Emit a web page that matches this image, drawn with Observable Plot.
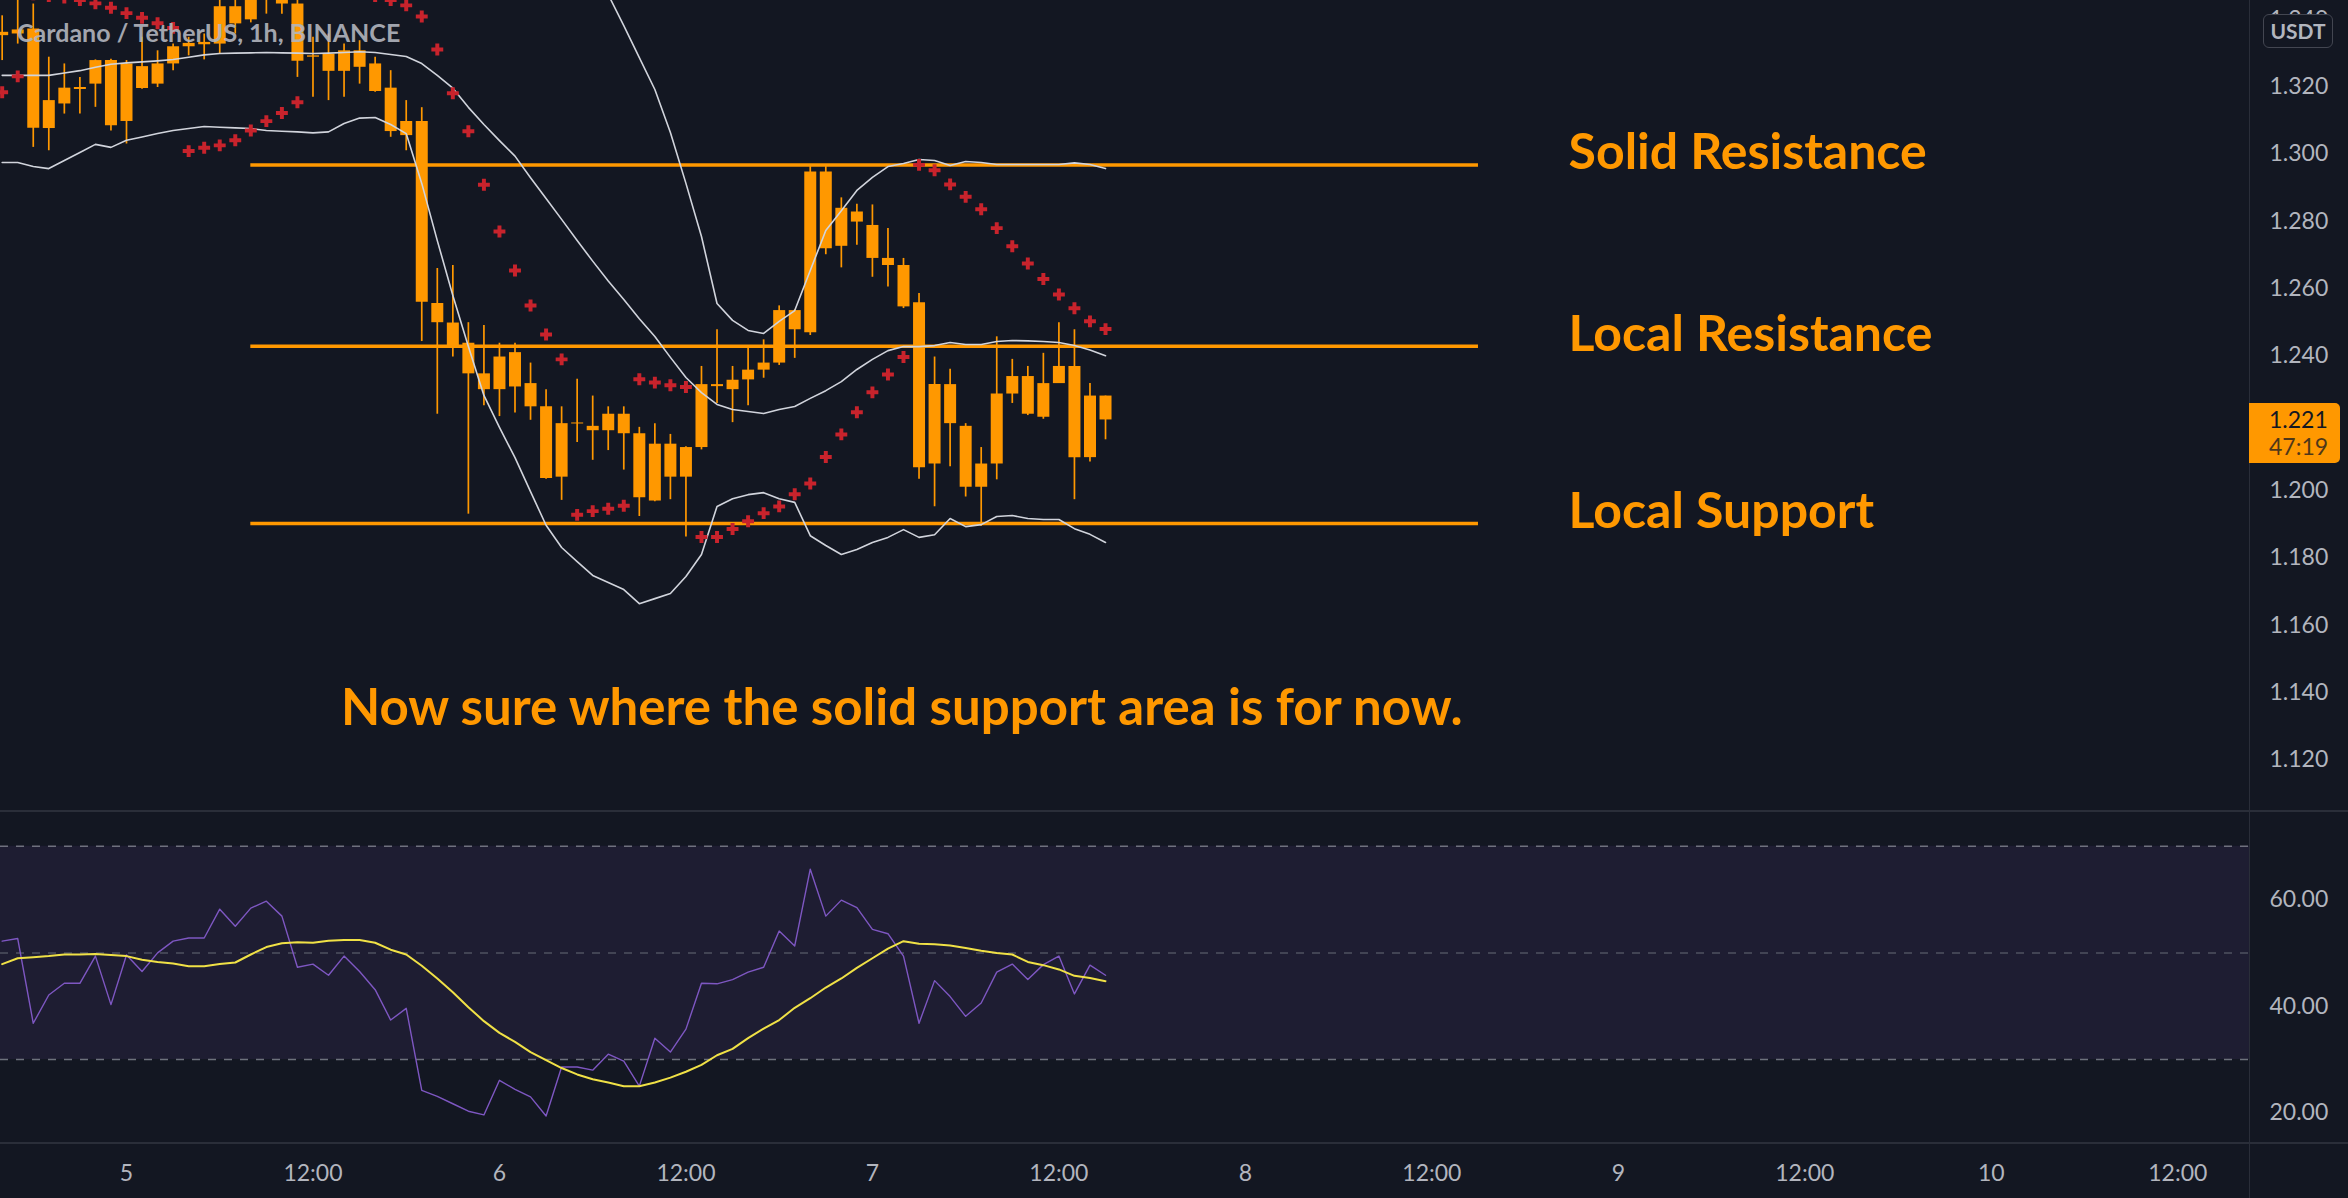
<!DOCTYPE html>
<html><head><meta charset="utf-8">
<script src="https://cdn.jsdelivr.net/npm/d3@7"></script>
<script src="https://cdn.jsdelivr.net/npm/@observablehq/plot@0.6"></script>
<style>
html,body{margin:0;padding:0;background:#131722;}
#root{position:relative;width:2348px;height:1198px;background:#131722;overflow:hidden;font-family:Lato,sans-serif;}
#root > *{position:absolute;}
</style></head><body><div id="root"></div>
<script>
// ---- data (hourly candles, hour offsets relative to 5 Jan 00:00) ----
const firstHour = -8;
const open  = [1.3352,1.3357,1.3372,1.3076,1.3149,1.3192,1.3208,1.3278,1.3097,1.3260,1.3208,1.3268,1.3319,1.3325,1.3327,1.3438,1.3399,1.3475,1.3462,1.3446,1.3288,1.3297,1.3246,1.3307,1.3268,1.3196,1.3055,1.3097,1.2556,1.2498,1.2438,1.2347,1.2300,1.2410,1.2318,1.2249,1.2040,1.2201,1.2191,1.2178,1.2227,1.2169,1.1969,1.2138,1.2040,1.2128,1.2315,1.2300,1.2329,1.2358,1.2379,1.2535,1.2469,1.2947,1.2726,1.2828,1.2788,1.2690,1.2669,1.2558,1.2079,1.2315,1.2191,1.2010,1.2079,1.2287,1.2339,1.2218,1.2318,1.2369,1.2098,1.2281];
const high  = [1.3411,1.3480,1.3446,1.3288,1.3268,1.3228,1.3280,1.3282,1.3278,1.3347,1.3307,1.3327,1.3347,1.3357,1.3470,1.3475,1.3490,1.3500,1.3480,1.3470,1.3347,1.3357,1.3327,1.3337,1.3288,1.3248,1.3159,1.3138,1.2660,1.2669,1.2499,1.2491,1.2438,1.2438,1.2379,1.2300,1.2249,1.2331,1.2281,1.2249,1.2249,1.2188,1.2199,1.2167,1.2130,1.2369,1.2478,1.2369,1.2422,1.2448,1.2549,1.2537,1.2963,1.2963,1.2870,1.2851,1.2849,1.2779,1.2690,1.2586,1.2397,1.2361,1.2199,1.2128,1.2457,1.2390,1.2369,1.2408,1.2499,1.2478,1.2318,1.2281];
const low   = [1.3278,1.3327,1.3020,1.3010,1.3119,1.3119,1.3139,1.3069,1.3030,1.3193,1.3198,1.3248,1.3292,1.3280,1.3297,1.3357,1.3390,1.3416,1.3416,1.3228,1.3169,1.3159,1.3169,1.3208,1.3184,1.3050,1.3010,1.2443,1.2227,1.2397,1.1930,1.2252,1.2220,1.2231,1.2209,1.2034,1.1971,1.2143,1.2090,1.2119,1.2061,1.1923,1.1967,1.1973,1.1862,1.2121,1.2259,1.2202,1.2252,1.2334,1.2372,1.2393,1.2461,1.2701,1.2662,1.2729,1.2634,1.2605,1.2541,1.2034,1.1952,1.2071,1.1981,1.1894,1.2032,1.2259,1.2223,1.2212,1.2318,1.1973,1.2085,1.2151];
const close = [1.3362,1.3369,1.3077,1.3159,1.3196,1.3198,1.3278,1.3084,1.3268,1.3195,1.3268,1.3319,1.3329,1.3332,1.3438,1.3387,1.3475,1.3462,1.3446,1.3276,1.3292,1.3246,1.3307,1.3258,1.3186,1.3067,1.3097,1.2560,1.2499,1.2429,1.2347,1.2300,1.2397,1.2308,1.2249,1.2036,1.2199,1.2198,1.2178,1.2227,1.2169,1.1979,1.2138,1.2040,1.2128,1.2315,1.2309,1.2328,1.2358,1.2379,1.2535,1.2478,1.2947,1.2719,1.2839,1.2798,1.2690,1.2669,1.2546,1.2068,1.2315,1.2199,1.2010,1.2079,1.2287,1.2339,1.2227,1.2318,1.2369,1.2098,1.2281,1.2210];

// Bollinger bands (upper band is off the top of the pane before hour 29)
const bbUpperFirstHour = 29;
const bbUpper  = [1.3620,1.3540,1.3474,1.3382,1.3287,1.3192,1.3064,1.2913,1.2755,1.2556,1.2506,1.2476,1.2467,1.2503,1.2535,1.2654,1.2773,1.2832,1.2892,1.2931,1.2963,1.2972,1.2984,1.2981,1.2966,1.2978,1.2975,1.2969,1.2969,1.2969,1.2969,1.2969,1.2974,1.2969,1.2957];
const bbMiddle = [1.3234,1.3234,1.3234,1.3234,1.3241,1.3248,1.3258,1.3267,1.3271,1.3274,1.3277,1.3281,1.3288,1.3295,1.3299,1.3300,1.3301,1.3302,1.3301,1.3300,1.3299,1.3300,1.3302,1.3304,1.3302,1.3296,1.3290,1.3269,1.3234,1.3196,1.3139,1.3088,1.3040,1.2994,1.2930,1.2868,1.2806,1.2743,1.2682,1.2623,1.2568,1.2511,1.2458,1.2396,1.2336,1.2291,1.2256,1.2241,1.2235,1.2229,1.2241,1.2250,1.2274,1.2297,1.2324,1.2360,1.2390,1.2416,1.2428,1.2428,1.2431,1.2440,1.2434,1.2434,1.2443,1.2446,1.2445,1.2443,1.2440,1.2431,1.2418,1.2401];
const bbLower  = [1.2975,1.2975,1.2963,1.2957,1.2981,1.3005,1.3029,1.3020,1.3041,1.3051,1.3061,1.3070,1.3076,1.3082,1.3080,1.3078,1.3076,1.3070,1.3068,1.3066,1.3063,1.3066,1.3091,1.3107,1.3109,1.3088,1.3061,1.2913,1.2743,1.2580,1.2428,1.2283,1.2188,1.2098,1.1997,1.1897,1.1831,1.1789,1.1748,1.1727,1.1706,1.1664,1.1679,1.1694,1.1745,1.1810,1.1953,1.1976,1.1988,1.1994,1.1976,1.1965,1.1866,1.1837,1.1810,1.1825,1.1846,1.1861,1.1884,1.1861,1.1869,1.1917,1.1893,1.1899,1.1923,1.1926,1.1917,1.1914,1.1914,1.1887,1.1870,1.1846];

// Parabolic SAR
const sar = [1.3184,1.3231,1.3475,1.3470,1.3465,1.3458,1.3448,1.3435,1.3419,1.3405,1.3389,1.3375,1.3009,1.3019,1.3026,1.3041,1.3070,1.3098,1.3122,1.3154,1.3500,1.3494,1.3488,1.3480,1.3470,1.3458,1.3442,1.3409,1.3311,1.3181,1.3068,1.2909,1.2770,1.2654,1.2550,1.2464,1.2390,1.1928,1.1939,1.1946,1.1955,1.2331,1.2321,1.2313,1.2308,1.1862,1.1862,1.1886,1.1909,1.1933,1.1953,1.1989,1.2021,1.2100,1.2167,1.2233,1.2292,1.2345,1.2397,1.2968,1.2952,1.2910,1.2873,1.2836,1.2780,1.2726,1.2675,1.2629,1.2583,1.2542,1.2503,1.2480];

// RSI and its moving average
const rsi   = [52.2,52.7,36.8,42.1,44.3,44.3,49.4,40.3,49.6,46.5,50.0,52.2,52.8,52.8,58.2,55.0,58.4,59.7,56.9,47.3,47.9,45.8,49.4,46.5,43.1,37.4,39.6,24.2,23.1,21.7,20.3,19.6,26.1,24.4,23.0,19.4,28.6,28.6,28.0,31.0,29.7,25.0,34.0,31.4,35.7,44.3,44.2,45.0,46.4,47.3,54.1,51.3,65.7,56.9,59.9,58.5,54.4,53.6,49.4,36.8,44.8,41.8,38.1,40.6,46.4,47.9,45.0,47.8,49.4,42.3,47.7,45.8];
const rsiMA = [47.9,49.0,49.2,49.4,49.7,49.7,49.8,49.6,49.4,48.7,48.3,48.0,47.5,47.5,47.9,48.2,49.7,51.1,51.8,52.0,51.9,52.3,52.4,52.4,51.9,50.6,49.7,47.6,45.2,42.6,39.8,37.2,35.0,33.3,31.4,29.9,28.4,27.2,26.3,25.7,25.0,25.0,25.7,26.6,27.7,29.0,30.8,32.0,34.0,35.8,37.4,39.7,41.5,43.5,45.2,47.2,49.0,50.8,52.2,51.7,51.6,51.4,50.9,50.4,50.0,49.7,48.3,47.7,46.9,45.7,45.3,44.7];
const rsiLevels = [70, 50, 30];

// drawn levels and notes
const levelNames  = ["Solid Resistance", "Local Resistance", "Local Support"];
const levelPrices = [1.2968, 1.2429, 1.1902];
const levelFromHour = 8, levelToHour = 87;
const noteTexts  = ["Solid Resistance", "Local Resistance", "Local Support", "Now sure where the solid support area is for now."];
const notePrices = [1.3061, 1.2520, 1.1994, 1.1410];
const noteHours  = [92.8, 92.8, 92.8, 13.8];
const noteSizes  = [50, 50, 50, 51];

const priceTicks = [1.12,1.14,1.16,1.18,1.20,1.22,1.24,1.26,1.28,1.30,1.32,1.34];
const rsiTicks = [20, 40, 60];
const timeTickHours = [0,12,24,36,48,60,72,84,96,108,120,132];
const lastPrice = 1.221, countdown = "47:19";
const title = "Cardano / TetherUS, 1h, BINANCE";

// ---- build tables ----
const HOUR = 3600e3, base = Date.UTC(2022, 0, 5);
const T = h => new Date(base + h * HOUR);
const candles = open.map((o, i) => ({t: T(firstHour + i), open: o, high: high[i], low: low[i], close: close[i],
  mid: bbMiddle[i], lower: bbLower[i], sar: sar[i], rsi: rsi[i], ma: rsiMA[i]}));
const upper = bbUpper.map((v, i) => ({t: T(bbUpperFirstHour + i), v}));
const levels = levelPrices.map((p, i) => ({name: levelNames[i], p, t1: T(levelFromHour), t2: T(levelToHour)}));
const notes = noteTexts.map((s, i) => ({s, p: notePrices[i], t: T(noteHours[i]), size: noteSizes[i]}));
const xDomain = [T(-8.108), T(136.615)];

const ORANGE = "#ff9800", RED = "#c8232c", BAND = "#d1d4dc", AXIS = "#b2b5be";
const style = {background: "none", color: AXIS, fontFamily: "Lato, sans-serif", fontSize: "23px", overflow: "visible"};
const root = document.getElementById("root");

const price = Plot.plot({
  width: 2348, height: 811, marginLeft: 0, marginRight: 99, marginTop: 0, marginBottom: 0,
  style,
  x: {type: "utc", domain: xDomain, axis: null},
  y: {domain: [1.10464, 1.34565], axis: null},
  marks: [
    Plot.axisY(priceTicks, {anchor: "right", label: null, tickSize: 0, tickPadding: 20, tickFormat: d3.format(".3f"), fontSize: 23}),
    Plot.ruleY(levels, {y: "p", x1: "t1", x2: "t2", stroke: ORANGE, strokeWidth: 3.5}),
    Plot.ruleX(candles, {x: "t", y1: "low", y2: "high", stroke: ORANGE, strokeWidth: 1.7, clip: true}),
    Plot.ruleX(candles, {x: "t", y1: "open", y2: "close", stroke: ORANGE, strokeWidth: 12, clip: true}),
    Plot.line(upper, {x: "t", y: "v", stroke: BAND, strokeWidth: 1.6, clip: true}),
    Plot.line(candles, {x: "t", y: "mid", stroke: BAND, strokeWidth: 1.6, clip: true}),
    Plot.line(candles, {x: "t", y: "lower", stroke: BAND, strokeWidth: 1.6, clip: true}),
    Plot.dot(candles, {x: "t", y: "sar", symbol: "cross", fill: RED, r: 5, clip: true}),
    Plot.text(notes, {x: "t", y: "p", text: "s", fontSize: "size", fill: ORANGE, fontWeight: "bold", textAnchor: "start", lineAnchor: "top"})
  ]
});
price.style.left = "0px"; price.style.top = "0px";
root.appendChild(price);

const rsiPlot = Plot.plot({
  width: 2348, height: 386, marginLeft: 0, marginRight: 99, marginTop: 0, marginBottom: 56,
  style,
  x: {type: "utc", domain: xDomain, axis: null},
  y: {domain: [14.43, 76.34], axis: null},
  marks: [
    Plot.rect([{lo: rsiLevels[2], hi: rsiLevels[0]}], {x1: () => xDomain[0], x2: () => xDomain[1], y1: "lo", y2: "hi", fill: "#7e57c2", fillOpacity: 0.1}),
    Plot.ruleY(rsiLevels, {stroke: "#787b86", strokeDasharray: "8,8", strokeWidth: 1.5, strokeOpacity: d => d === 50 ? 0.55 : 0.9}),
    Plot.line(candles, {x: "t", y: "rsi", stroke: "#7e57c2", strokeWidth: 1.4}),
    Plot.line(candles, {x: "t", y: "ma", stroke: "#f0e146", strokeWidth: 2}),
    Plot.axisY(rsiTicks, {anchor: "right", label: null, tickSize: 0, tickPadding: 20, tickFormat: d3.format(".2f"), fontSize: 23}),
    Plot.axisX(timeTickHours.map(T), {anchor: "bottom", label: null, tickSize: 0, tickPadding: 22, fontSize: 23,
      tickFormat: d => d.getUTCHours() === 0 ? String(d.getUTCDate()) : "12:00"})
  ]
});
rsiPlot.style.left = "0px"; rsiPlot.style.top = "812px";
root.appendChild(rsiPlot);

// decorations: pane separators, axis border
function box(css) { const d = document.createElement("div"); Object.assign(d.style, css); root.appendChild(d); return d; }
box({left: "0px", top: "810px", width: "2348px", height: "2px", background: "#2a2e39"});
box({left: "0px", top: "1142px", width: "2348px", height: "2px", background: "#2a2e39"});
box({left: "2249px", top: "0px", width: "1px", height: "1198px", background: "#2a2e39"});

// title
const tt = box({left: "17px", top: "19px", font: "bold 25px/26px Lato, sans-serif", color: "#b2b5be", whiteSpace: "nowrap", opacity: "0.9"});
tt.textContent = title;

// currency box
const ub = box({left: "2263px", top: "14px", width: "68px", height: "32px", background: "#131722", border: "1px solid #434651",
  borderRadius: "6px", font: "bold 21px/32px Lato, sans-serif", color: AXIS, textAlign: "center"});
ub.textContent = "USDT";

// last price label
const yLast = price.scale("y").apply(lastPrice);
const lb = box({left: "2249px", top: (yLast - 16) + "px", width: "91px", height: "60px", background: ORANGE,
  borderRadius: "0 5px 5px 0", font: "23px/27px Lato, sans-serif", color: "#131722", paddingLeft: "20px", boxSizing: "border-box", paddingTop: "3px"});
lb.innerHTML = `<div>${lastPrice.toFixed(3)}</div><div style="opacity:0.75">${countdown}</div>`;
</script></body></html>
